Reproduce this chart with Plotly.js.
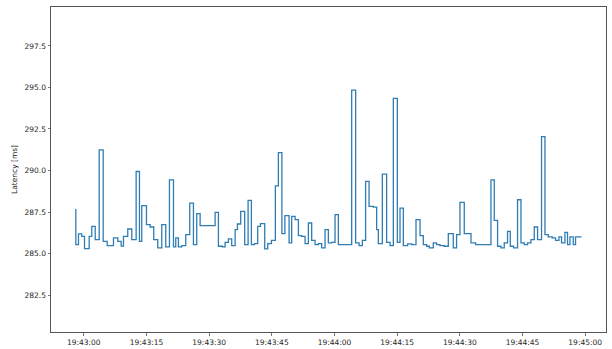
<!DOCTYPE html>
<html>
<head>
<meta charset="utf-8">
<script src="https://cdn.plot.ly/plotly-3.0.1.min.js"></script>
<style>html,body{margin:0;padding:0;background:#fff;}#chart{width:612px;height:349px;}</style>
</head>
<body>
<div id="chart"></div>
<script>
// seconds after 19:43:00 of each sample
const offsetsSec = [-1.91, -1.27, -0.48, 0.17, 1.29, 1.91, 2.73, 3.68, 4.64, 5.60, 7.10, 8.13, 8.95, 9.50,
  10.52, 11.48, 12.53, 13.32, 13.87, 15.00, 15.88, 16.74, 17.70, 18.66, 19.61, 20.50, 21.46, 22.01,
  22.65, 23.44, 24.40, 25.36, 26.24, 27.03, 27.84, 31.43, 32.22, 33.18, 33.82, 34.61, 35.40, 36.22,
  36.77, 37.55, 38.51, 39.32, 40.11, 40.83, 41.62, 42.27, 43.30, 44.01, 44.90, 45.85, 46.57, 47.41,
  48.13, 49.13, 49.75, 50.57, 51.36, 52.15, 52.96, 53.75, 54.54, 55.35, 56.14, 56.93, 57.74, 58.53,
  59.32, 60.13, 60.93, 64.11, 65.06, 65.88, 66.67, 67.45, 68.27, 69.30, 70.09, 70.49, 71.45, 72.48,
  73.29, 74.08, 75.04, 75.68, 76.47, 77.50, 78.46, 79.51, 80.47, 81.26, 82.05, 82.69, 83.65, 84.44,
  85.25, 86.28, 87.24, 88.43, 89.22, 90.03, 91.06, 92.67, 93.77, 97.45, 98.24, 99.03, 99.84, 100.63,
  101.42, 102.07, 102.86, 103.81, 104.63, 105.42, 106.20, 107.02, 107.81, 108.60, 109.55, 110.37,
  111.16, 112.11, 112.90, 113.72, 114.34, 115.15, 115.77, 116.35, 117.14, 117.69, 119.12];
const latencyMs = [287.68, 285.54, 286.18, 286.04, 285.30, 286.04, 286.64, 285.84, 291.24, 285.74, 285.48, 285.94, 285.74, 285.45,
  286.04, 286.48, 285.84, 289.94, 285.74, 287.88, 286.74, 286.60, 285.84, 285.34, 286.74, 285.40, 289.44, 285.40,
  285.94, 285.40, 285.48, 286.14, 288.04, 285.54, 287.40, 286.68, 287.48, 285.44, 285.40, 285.68, 285.88, 285.48,
  286.44, 286.78, 287.54, 285.54, 288.20, 285.54, 285.60, 286.64, 286.80, 285.28, 285.60, 285.80, 289.08, 291.08,
  286.20, 287.28, 285.64, 287.24, 287.04, 286.08, 286.04, 285.60, 286.84, 285.80, 285.54, 285.60, 285.34, 286.44,
  285.64, 285.68, 287.34, 285.54, 294.84, 285.64, 285.48, 285.80, 289.34, 287.84, 287.80, 286.44, 285.60, 289.78,
  285.68, 285.48, 294.34, 285.68, 287.74, 285.48, 285.58, 285.54, 287.04, 286.08, 285.54, 285.44, 285.34, 285.64,
  285.54, 285.48, 285.44, 286.20, 285.34, 286.14, 288.08, 286.20, 285.64, 285.54, 289.44, 287.00, 285.44, 285.34,
  285.64, 286.34, 285.44, 285.34, 288.24, 285.64, 285.54, 285.64, 285.84, 286.60, 285.84, 292.04,
  286.14, 286.00, 285.94, 285.80, 286.00, 285.64, 286.28, 285.54, 286.00, 285.54, 286.00];
const baseTime = {h: 19, m: 43, s: 0};
const xTickOffsets = [0, 15, 30, 45, 60, 75, 90, 105, 120];
const yTickValues = [282.5, 285.0, 287.5, 290.0, 292.5, 295.0, 297.5];
const xRangeOffsets = [-7.85, 124.98];
const yRange = [280.28, 299.84];

function stamp(off) {
  let total = baseTime.h * 3600 + baseTime.m * 60 + baseTime.s + off;
  const h = Math.floor(total / 3600);
  total -= h * 3600;
  const m = Math.floor(total / 60);
  const s = total - m * 60;
  const pad = n => String(n).padStart(2, '0');
  const sec = s.toFixed(3).padStart(6, '0');
  return '2024-01-01 ' + pad(h) + ':' + pad(m) + ':' + sec;
}
const times = offsetsSec.map(stamp);
const font = {family: 'DejaVu Sans', size: 7.5, color: '#262626'};

Plotly.newPlot('chart', [{
  x: times, y: latencyMs, type: 'scatter', mode: 'lines',
  line: {shape: 'vh', color: '#2f7db3', width: 1.3},
  hoverinfo: 'skip'
}], {
  width: 612, height: 349,
  margin: {l: 50.6, r: 6.2, t: 6.6, b: 16.7},
  paper_bgcolor: '#fff', plot_bgcolor: '#fff',
  showlegend: false,
  font: font,
  xaxis: {
    type: 'date',
    range: xRangeOffsets.map(stamp),
    tickvals: xTickOffsets.map(stamp),
    tickformat: '%H:%M:%S',
    showgrid: false, zeroline: false,
    showline: true, mirror: true, linecolor: '#555', linewidth: 1,
    ticks: 'outside', ticklen: 2.5, tickcolor: '#555', tickwidth: 0.8,
    tickfont: font
  },
  yaxis: {
    range: yRange,
    tickvals: yTickValues,
    tickformat: '.1f',
    showgrid: false, zeroline: false,
    showline: true, mirror: true, linecolor: '#555', linewidth: 1,
    ticks: 'outside', ticklen: 2.5, tickcolor: '#555', tickwidth: 0.8,
    tickfont: font,
    title: {text: 'Latency [ms]', font: font, standoff: 5}
  }
}, {staticPlot: true});
</script>
</body>
</html>
